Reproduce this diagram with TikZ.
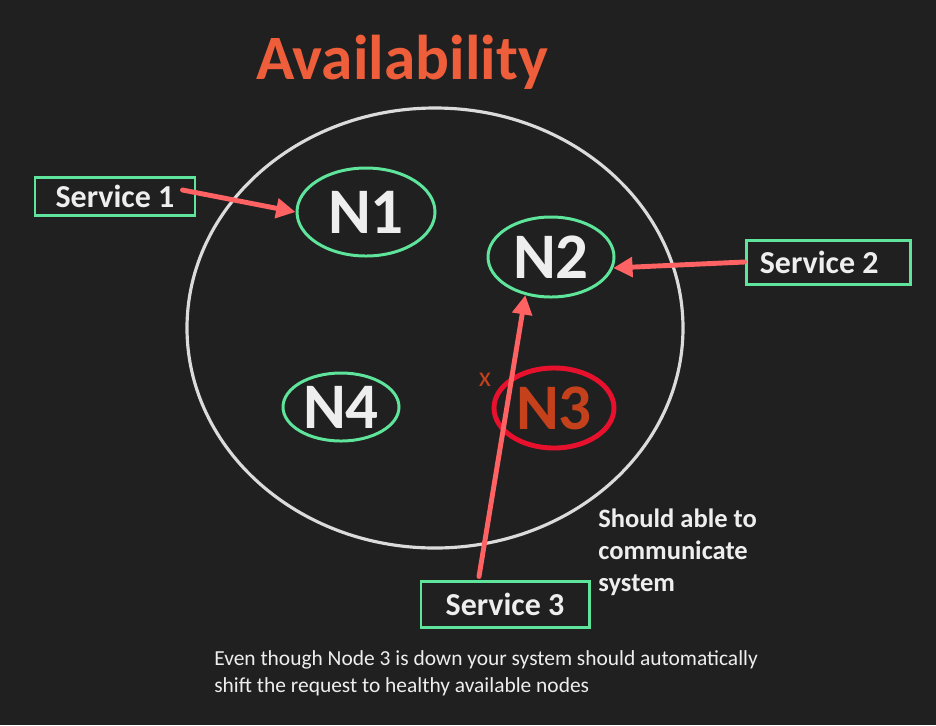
\documentclass[tikz,border=0pt]{standalone}
\usepackage{fontspec}
\setmainfont{Carlito}
\usepackage{tikz}
\usetikzlibrary{calc}
\usetikzlibrary{arrows.meta,shapes.geometric}
\usetikzlibrary{positioning}
\definecolor{bg}{HTML}{202020}
\definecolor{ttl}{HTML}{EE5E3B}
\definecolor{grn}{HTML}{5EE59B}
\definecolor{coral}{HTML}{FF6262}
\definecolor{dead}{HTML}{E8112D}
\definecolor{deadtxt}{HTML}{C4411C}
\definecolor{wht}{HTML}{EEEEEE}
\tikzstyle{nd}=[ellipse,draw=grn,line width=1.7pt,text=wht,inner sep=0,
                font=\fontsize{37}{40}\selectfont\bfseries]
\tikzstyle{svc}=[rectangle,draw=grn,line width=1.7pt,text=wht,inner sep=0,
                 font=\fontsize{18.2}{20}\selectfont\bfseries]
\tikzstyle{req}=[draw=coral,line width=2.8pt,line cap=round,
                 -{Triangle[length=11pt,width=11pt]}]
\begin{document}
\begin{tikzpicture}[x=0.02cm,y=-0.02cm]
\fill[bg] (0,0) rectangle (936,725);
\node[text=ttl,font=\fontsize{36}{40}\selectfont\bfseries] (title) at (402,62) {Availability};
% cluster
\draw[wht!92!black,line width=1.8pt] (435,328) ellipse (248 and 220);
\node[nd,minimum width=138*0.02cm,minimum height=88*0.02cm] (n1) at (366,212) {N1};
\node[nd,minimum width=126*0.02cm,minimum height=80*0.02cm] (n2) at (551,257) {N2};
\node[nd,minimum width=116*0.02cm,minimum height=68*0.02cm] (n4) at (341,407) {N4};
\node[nd,draw=dead,text=deadtxt,line width=2.8pt,minimum width=120*0.02cm,minimum height=80*0.02cm] (n3) at (554,408) {N3};
\node[text=deadtxt,font=\fontsize{16}{18}\selectfont] (down) at (485,380) {x};
% services
\node[svc,minimum width=160*0.02cm,minimum height=38*0.02cm] (s1) at (115,196) {Service 1};
\node[svc,minimum width=164*0.02cm,minimum height=44*0.02cm] (s2) at (828,262) {Service 2\kern10pt\null};
\node[svc,minimum width=168*0.02cm,minimum height=46*0.02cm] (s3) at (505,604) {Service 3};
\draw[req] ($(s1.east)+(-14,-6)$) -- (n1.west);
\draw[req] (s2.west) -- (n2.-10);
\draw[req] ($(s3.north)+(-26,-3)$) -- (n2.236);
% notes
\node[anchor=north west,align=left,text=wht,inner sep=0,
      font=\fontsize{15.1}{18.1}\selectfont\bfseries] (note) at (598,509)
      {Should able to\\communicate\\system};
\node[anchor=north west,align=left,text=wht,inner sep=0,
      font=\fontsize{12.2}{15.3}\selectfont] (foot) at (214,650)
      {Even though Node 3 is down your system should automatically\\shift the request to healthy available nodes};
\end{tikzpicture}
\end{document}
